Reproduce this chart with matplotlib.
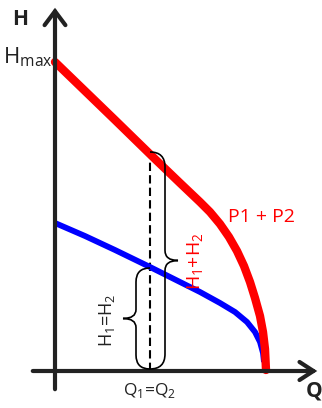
import matplotlib
matplotlib.use("Agg")
import matplotlib.pyplot as plt
from matplotlib.patches import FancyArrowPatch, PathPatch
from matplotlib.path import Path

plt.rcParams['font.family'] = ['Open Sans', 'DejaVu Sans']

# Combined curve P1 + P2 (Q, H)
red_q = [0, 60, 100, 125, 145, 155, 165, 174, 182, 189, 195, 200, 205, 208, 210, 211]
red_h = [309, 251, 212, 188, 169, 159, 147, 134, 120, 105, 89, 73, 55, 39, 22, 1]
# Single pump curve (Q, H)
blue_q = [0, 30, 60, 95, 125, 145, 165, 180, 192, 200, 205, 208, 209]
blue_h = [148, 135, 121, 104, 89, 79, 68, 59, 49, 39, 29, 18, 9]

q_op = 95          # operating point Q1=Q2
h_sum = 217        # H1+H2 at q_op
h_one = 102        # H1=H2 at q_op

fig = plt.figure(figsize=(3.22, 4.08), dpi=100)
ax = fig.add_axes([0, 0, 1, 1])
ax.set_xlim(-55, 267)
ax.set_ylim(-37, 371)
ax.axis('off')

axis_col = '#222222'
# axes with arrows
for (a, b, hl, hw) in [((0, -21), (0, 366), 10, 7.5), ((-25, 0), (265, 0), 10, 6.5)]:
    ax.add_patch(FancyArrowPatch(a, b, arrowstyle=f'->,head_length={hl},head_width={hw}',
                                 mutation_scale=1, lw=3, color=axis_col,
                                 capstyle='round', joinstyle='miter', zorder=5))

ax.plot(blue_q, blue_h, color='#0000ff', lw=4.2, solid_capstyle='butt',
        solid_joinstyle='round', zorder=3)
ax.plot(red_q, red_h, color='#ff0000', lw=6, solid_capstyle='round',
        solid_joinstyle='round', zorder=4)

ax.plot([q_op, q_op], [0, h_sum - 1], color='black', lw=1.5, dashes=(4, 2), zorder=2)


def brace(x0, y0, y1, xv, xt, r=15, rt=10):
    ym = (y0 + y1) / 2
    verts = [(x0, y1), (xv, y1), (xv, y1 - r),
             (xv, ym + rt),
             (xv, ym), (xt, ym),
             (xv, ym), (xv, ym - rt),
             (xv, y0 + r),
             (xv, y0), (x0, y0)]
    codes = [Path.MOVETO, Path.CURVE3, Path.CURVE3,
             Path.LINETO,
             Path.CURVE3, Path.CURVE3,
             Path.CURVE3, Path.CURVE3,
             Path.LINETO,
             Path.CURVE3, Path.CURVE3]
    ax.add_patch(PathPatch(Path(verts, codes), fill=False, lw=1.2,
                           edgecolor='black', zorder=6))


brace(q_op, 2, h_sum + 2, q_op + 15, q_op + 28)
brace(q_op, 2, h_one + 1, q_op - 14, q_op - 27, r=14, rt=9)

ax.text(-35, 346, 'H', fontsize=15, fontweight='bold', ha='center',
        va='baseline', color=axis_col)
ax.text(-52, 308, r'H$_{\mathregular{max}}$', fontsize=16, ha='left',
        va='baseline', color=axis_col)
ax.text(259, -25, 'Q', fontsize=15, fontweight='bold', ha='center',
        va='baseline', color=axis_col)
ax.text(q_op, -24, r'Q$_{\mathregular{1}}$=Q$_{\mathregular{2}}$', fontsize=12.5,
        ha='center', va='baseline', color=axis_col)
ax.text(206, 149, 'P1 + P2', fontsize=14, ha='center', va='baseline', color='#ff0000')
ax.text(141, 110, r'H$_{\mathregular{1}}$+H$_{\mathregular{2}}$', fontsize=14,
        rotation=90, ha='center', va='center', color='#ff0000')
ax.text(52, 51, r'H$_{\mathregular{1}}$=H$_{\mathregular{2}}$', fontsize=13,
        rotation=90, ha='center', va='center', color=axis_col)

fig.savefig('out.png', dpi=100)
